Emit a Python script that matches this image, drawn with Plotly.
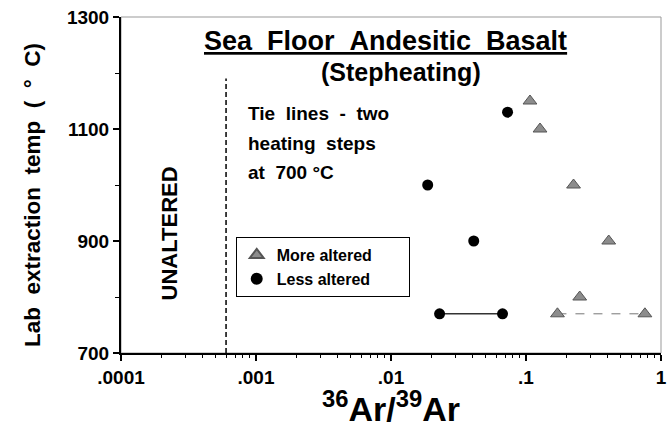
import plotly.graph_objects as go

# Data
more_x = [0.107, 0.127, 0.225, 0.41, 0.25]
more_y = [1150, 1100, 1000, 900, 800]
less_x = [0.073, 0.0187, 0.041]
less_y = [1130, 1000, 900]
tie_less_x = [0.0229, 0.067]
tie_less_y = [770, 770]
tie_more_x = [0.171, 0.76]
tie_more_y = [770, 770]
unaltered_x = 0.0006
unaltered_y = [700, 1190]

x_tickvals = [0.0001, 0.001, 0.01, 0.1, 1]
x_ticktext = [".0001", ".001", ".01", ".1", "1"]
y_tickvals = [700, 900, 1100, 1300]
y_ticktext = ["700", "900", "1100", "1300"]

FONT = "Liberation Sans, Arial, sans-serif"
TRI_FILL = "#8c8c8c"
TRI_LINE = "#555555"
NB = "\u00a0"

fig = go.Figure()

# tie lines
fig.add_trace(go.Scatter(x=tie_more_x, y=tie_more_y, mode="lines",
                         line=dict(color="#777777", width=1, dash="dash"),
                         showlegend=False, hoverinfo="skip"))
fig.add_trace(go.Scatter(x=tie_less_x, y=tie_less_y, mode="lines",
                         line=dict(color="#333333", width=1.5),
                         showlegend=False, hoverinfo="skip"))
# unaltered boundary
fig.add_trace(go.Scatter(x=[unaltered_x, unaltered_x], y=unaltered_y, mode="lines",
                         line=dict(color="black", width=1.5, dash="5px,3px"),
                         showlegend=False, hoverinfo="skip"))

tri_marker = dict(symbol="triangle-up", size=12, color=TRI_FILL,
                  line=dict(color=TRI_LINE, width=1))
circ_marker = dict(symbol="circle", size=11, color="black")

fig.add_trace(go.Scatter(x=more_x, y=more_y, mode="markers", marker=tri_marker,
                         name="More altered" + NB * 7))
fig.add_trace(go.Scatter(x=less_x, y=less_y, mode="markers", marker=circ_marker,
                         name="Less altered"))
fig.add_trace(go.Scatter(x=tie_more_x, y=tie_more_y, mode="markers", marker=tri_marker,
                         showlegend=False))
fig.add_trace(go.Scatter(x=tie_less_x, y=tie_less_y, mode="markers", marker=circ_marker,
                         showlegend=False))

L, R, T, B = 121, 4, 17, 75
W = 671 - L - R
H = 428 - T - B

fig.update_layout(
    width=671, height=428,
    margin=dict(l=L, r=R, t=T, b=B),
    paper_bgcolor="white", plot_bgcolor="white",
    font=dict(family=FONT, color="black"),
    legend=dict(x=(237 - L) / W, y=(T + H - 237) / H, xanchor="left", yanchor="top",
                bordercolor="black", borderwidth=1, bgcolor="white",
                font=dict(size=16, family=FONT, weight="bold"),
                itemsizing="constant", tracegroupgap=0),
    shapes=[dict(type="rect", xref="paper", yref="paper", x0=0, y0=0, x1=1, y1=1,
                 line=dict(color="#999999", width=1), layer="below")],
)

fig.update_xaxes(
    type="log", range=[-4, 0],
    tickmode="array", tickvals=x_tickvals, ticktext=x_ticktext,
    tickfont=dict(size=19, family=FONT, weight="bold"),
    ticklabeloverflow="allow",
    ticks="outside", ticklen=6, tickwidth=1.5, tickcolor="black",
    minor=dict(ticks="outside", ticklen=3, tickwidth=1, tickcolor="black",
               dtick="D1", showgrid=False),
    showline=True, linecolor="black", linewidth=2,
    showgrid=False, zeroline=False,
    title=dict(text="<sup>36</sup>Ar/<sup>39</sup>Ar",
               font=dict(size=34, family=FONT, weight="bold"), standoff=0),
)
fig.update_yaxes(
    range=[700, 1300],
    tickmode="array", tickvals=y_tickvals, ticktext=y_ticktext,
    tickfont=dict(size=19, family=FONT, weight="bold"),
    ticks="outside", ticklen=6, tickwidth=1.5, tickcolor="black",
    minor=dict(ticks="outside", ticklen=4, tickwidth=1, tickcolor="black",
               dtick=100, showgrid=False),
    showline=True, linecolor="black", linewidth=2,
    showgrid=False, zeroline=False,
)

def px(x):
    return (x - L) / W
def py(y):
    return (T + H - y) / H

def ann(text, x, y, size, bold=True, angle=0, xanchor="center", align="center"):
    fig.add_annotation(text=text, xref="paper", yref="paper", x=px(x), y=py(y),
                       showarrow=False, textangle=angle, xanchor=xanchor,
                       yanchor="middle", align=align,
                       font=dict(size=size, family=FONT,
                                 weight="bold" if bold else "normal"))

ann(f"Lab{NB*2}extraction{NB*2}temp{NB*2}({NB*2}°{NB*2}C)", 31, 195, 22.5, bold=True, angle=-90)
ann(f"<u>Sea{NB*2}Floor{NB*2}Andesitic{NB*2}Basalt</u>", 388, 41, 27, bold=True)
ann("(Stepheating)", 404, 72, 25, bold=True)
ann(f"Tie{NB*2}lines{NB*2}-{NB*2}two", 247, 114, 19, xanchor="left")
ann(f"heating{NB*2}steps", 247, 143, 19, xanchor="left")
ann(f"at{NB*2}700{NB}°C", 247, 172, 19, xanchor="left")
ann("UNALTERED", 171, 233, 22, bold=True, angle=-90)

fig.write_html("out.html", config={"displayModeBar": False},
               post_script="document.body.style.margin='0';")
